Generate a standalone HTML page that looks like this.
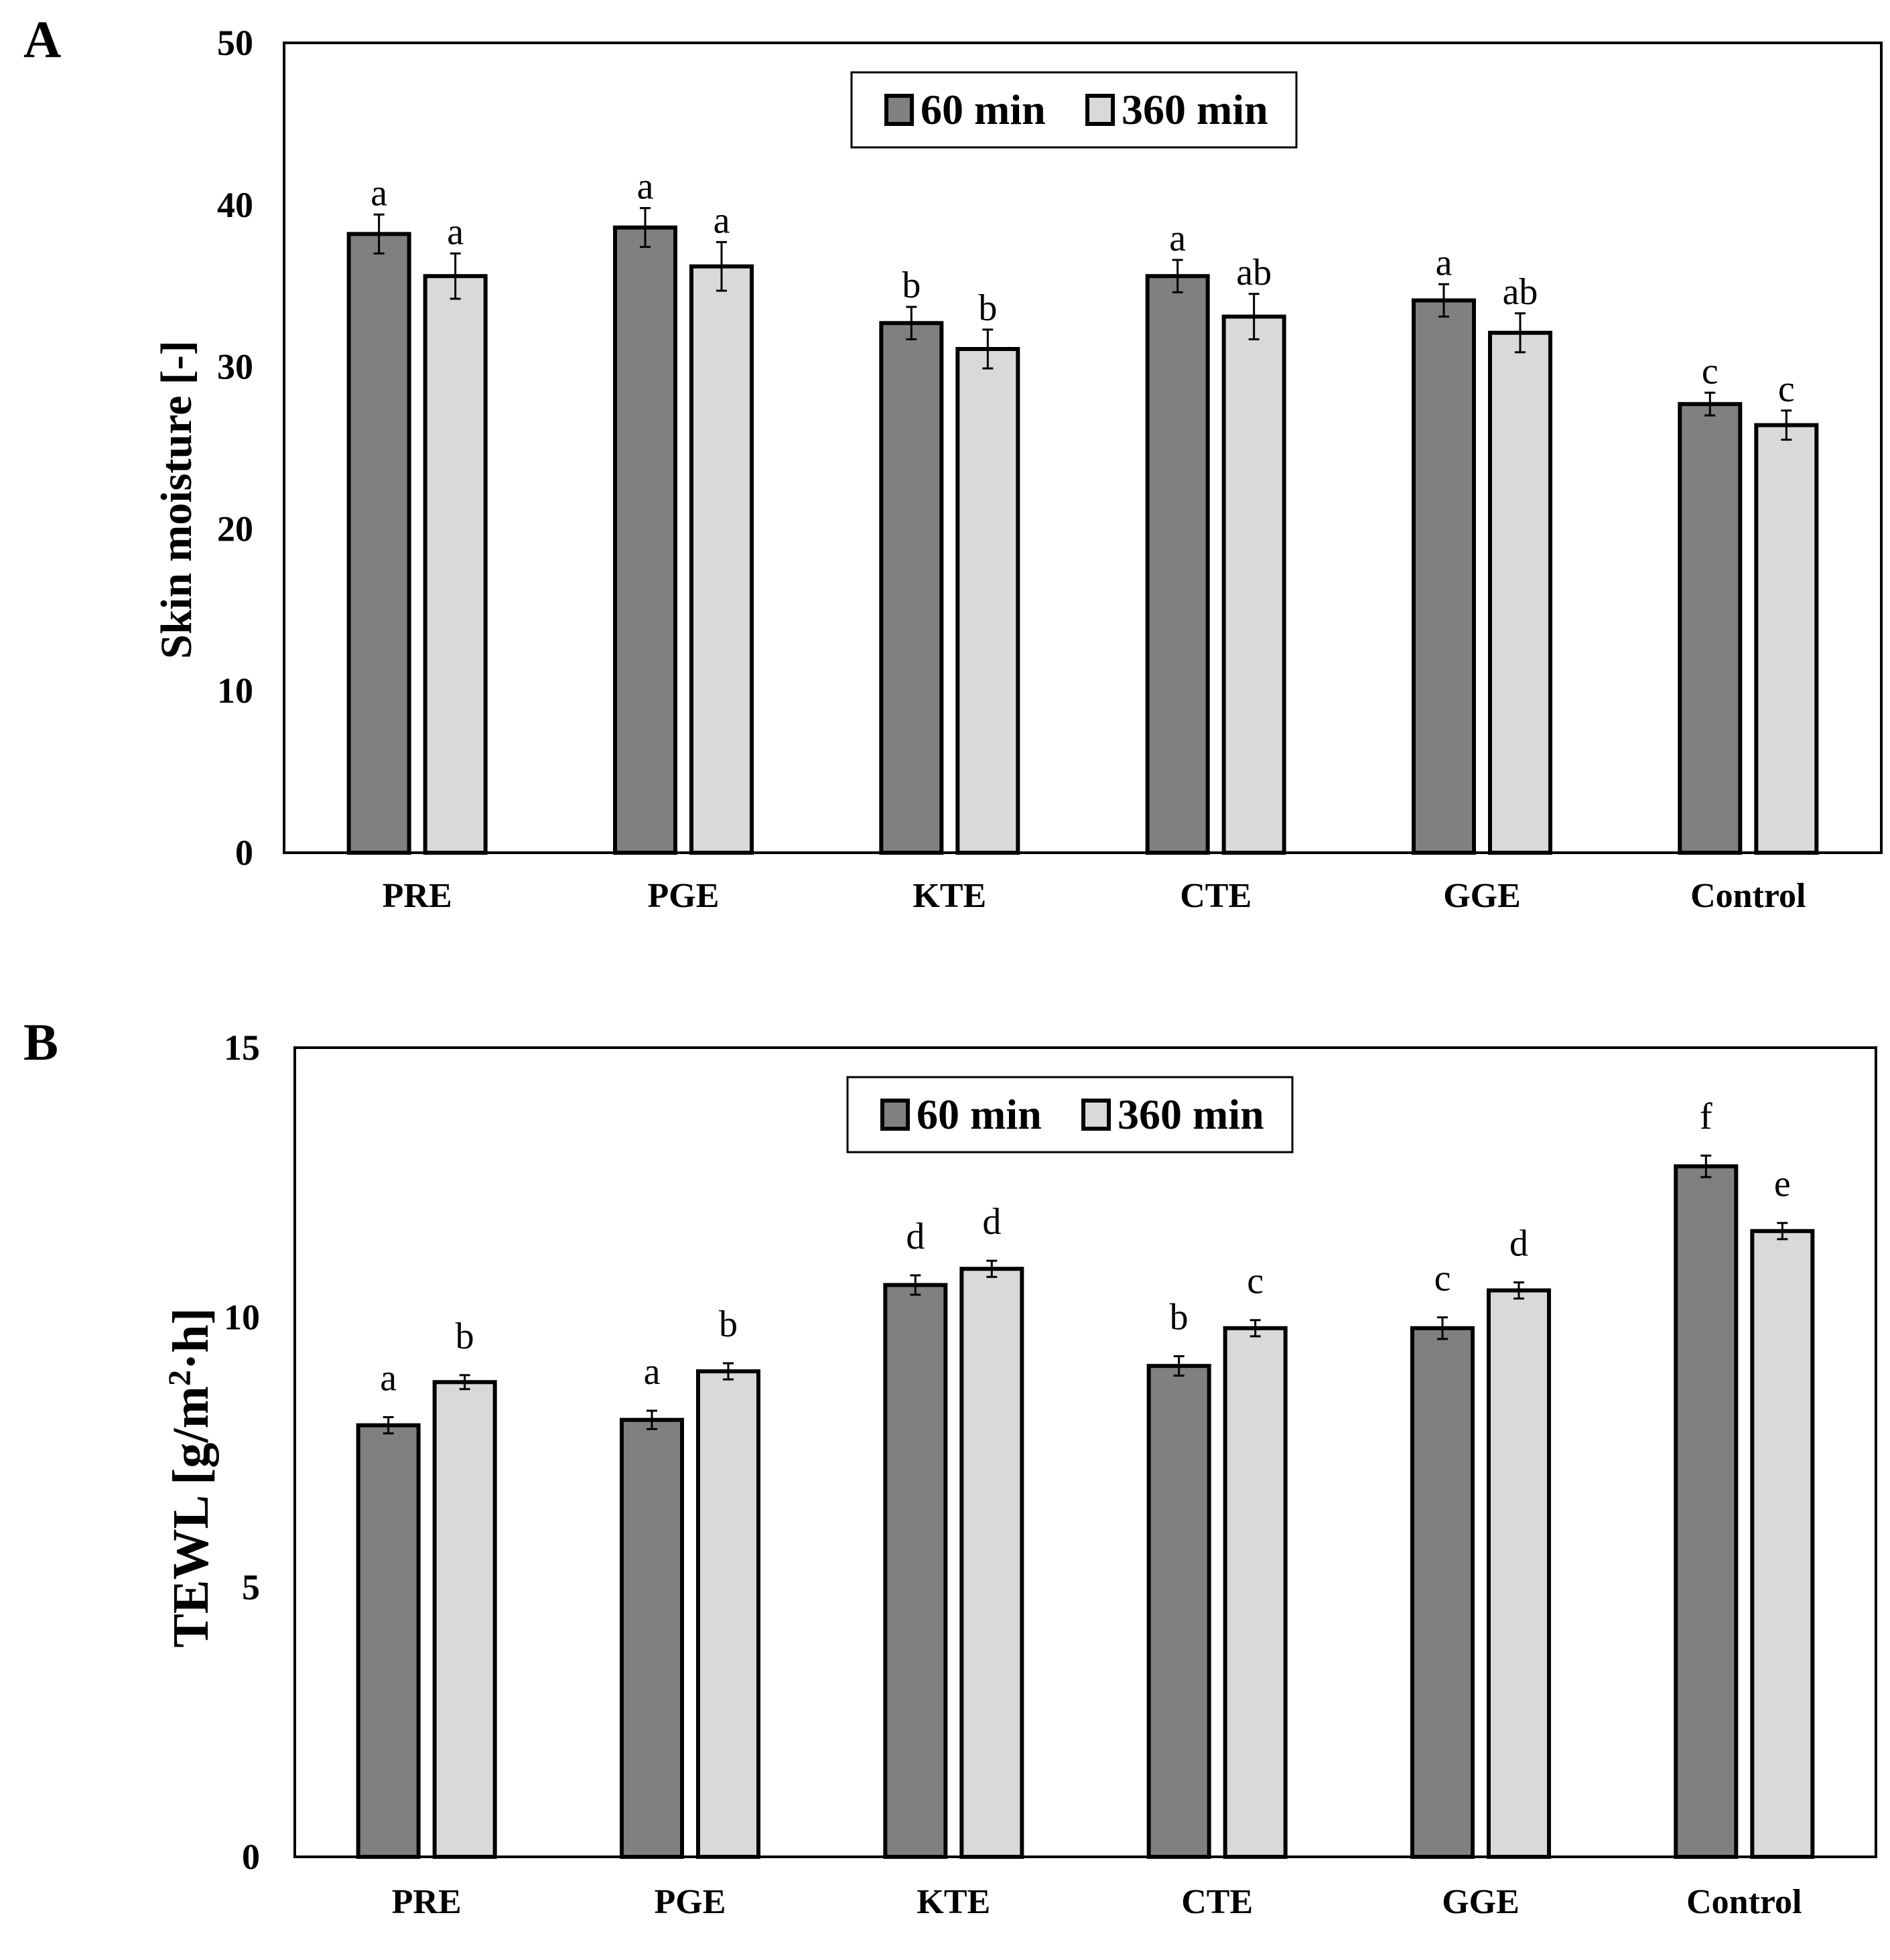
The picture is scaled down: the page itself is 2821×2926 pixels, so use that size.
<!DOCTYPE html>
<html><head><meta charset="utf-8"><style>
html,body{margin:0;padding:0;background:#fff}
svg{display:block}
text{font-family:"Liberation Serif",serif}
</style></head><body>
<svg id="fig" width="2821" height="2926" viewBox="0 0 2821 2926" xmlns="http://www.w3.org/2000/svg">
<text x="35" y="85" font-size="78" font-weight="bold">A</text>
<text x="35" y="1582" font-size="78" font-weight="bold">B</text>
<g id="chartA"></g>
<g id="chartB"></g>
</svg>
<script>
const categories = ["PRE","PGE","KTE","CTE","GGE","Control"];
const moist60 = [38.2,38.6,32.7,35.6,34.1,27.7];
const moist60Err = [1.2,1.2,1.0,1.0,1.0,0.7];
const moist60Lbl = ["a","a","b","a","a","c"];
const moist360 = [35.6,36.2,31.1,33.1,32.1,26.4];
const moist360Err = [1.4,1.5,1.2,1.4,1.2,0.9];
const moist360Lbl = ["a","a","b","ab","ab","c"];
const moistTicks = [0,10,20,30,40,50];
const tewl60 = [8.0,8.1,10.6,9.1,9.8,12.8];
const tewl60Err = [0.15,0.17,0.18,0.18,0.2,0.2];
const tewl60Lbl = ["a","a","d","b","c","f"];
const tewl360 = [8.8,9.0,10.9,9.8,10.5,11.6];
const tewl360Err = [0.13,0.15,0.15,0.15,0.15,0.15];
const tewl360Lbl = ["b","b","d","c","d","e"];
const tewlTicks = [0,5,10,15];

const NS="http://www.w3.org/2000/svg";
function mk(parent,tag,attrs,txt){const e=document.createElementNS(NS,tag);for(const k in attrs)e.setAttribute(k,attrs[k]);if(txt!==undefined)e.textContent=txt;parent.appendChild(e);return e;}

function draw(g,cfg){
  const {L,T,R,B,max,ticks,d1,e1,l1,d2,e2,l2,title,titleX,titleY,titleSize,legX,legY,tickX,catY,lblOff}=cfg;
  const y=v=>B-(v/max)*(B-T);
  const band=(R-L)/categories.length;
  const cx=i=>L+band*(i+0.5);
  const bw=90, gap=24;
  const frame=mk(g,'rect',{x:L,y:T,width:R-L,height:B-T,fill:'none',stroke:'#000','stroke-width':4});
  
  
  ticks.forEach(t=>{
    const tl=mk(g,'text',{x:tickX,y:y(t)+18,'font-size':54,'font-weight':'bold','text-anchor':'end'},String(t));
    
    
  });
  const yt=mk(g,'text',{x:0,y:0,'font-size':titleSize,'font-weight':'bold','text-anchor':'middle',transform:`translate(${titleX},${titleY}) rotate(-90)`});
  yt.innerHTML=title;
  
  
  const series=[[d1,e1,l1,'#808080',-1],[d2,e2,l2,'#d9d9d9',1]];
  categories.forEach((c,i)=>{
    series.forEach(([vals,errs,lbls,fill,side],s)=>{
      const x0 = side<0 ? cx(i)-gap/2-bw : cx(i)+gap/2;
      const r=mk(g,'rect',{x:x0,y:y(vals[i]),width:bw,height:B-y(vals[i]),fill:fill,stroke:'#000','stroke-width':6});
      
      
      const mx=x0+bw/2, top=y(vals[i]+errs[i]), bot=y(vals[i]-errs[i]);
      const eb=mk(g,'path',{d:`M${mx},${top}V${bot}M${mx-8},${top}H${mx+8}M${mx-8},${bot}H${mx+8}`,stroke:'#000','stroke-width':3,fill:'none'});
      
      
      const lt=mk(g,'text',{x:mx,y:top-lblOff,'font-size':56,'text-anchor':'middle'},lbls[i]);
      
      
    });
    const cl=mk(g,'text',{x:cx(i),y:catY,'font-size':52,'font-weight':'bold','text-anchor':'middle'},c);
    
    
  });
  const lg=mk(g,'g',{});
  
  
  mk(lg,'rect',{x:legX,y:legY,width:664,height:112,fill:'#fff',stroke:'#000','stroke-width':3});
  const e1g=mk(lg,'g',{});
  
  
  mk(e1g,'rect',{x:legX+52,y:legY+35,width:38,height:42,fill:'#808080',stroke:'#000','stroke-width':6});
  mk(e1g,'text',{x:legX+103,y:legY+77,'font-size':64,'font-weight':'bold'},'60 min');
  const e2g=mk(lg,'g',{});
  
  
  mk(e2g,'rect',{x:legX+352,y:legY+35,width:38,height:42,fill:'#d9d9d9',stroke:'#000','stroke-width':6});
  mk(e2g,'text',{x:legX+403,y:legY+77,'font-size':64,'font-weight':'bold'},'360 min');
}
draw(document.getElementById('chartA'),{L:424,T:64,R:2808,B:1273,max:50,ticks:moistTicks,d1:moist60,e1:moist60Err,l1:moist60Lbl,d2:moist360,e2:moist360Err,l2:moist360Lbl,title:'Skin moisture [-]',titleX:285,titleY:746,titleSize:66,legX:1271,legY:108,tickX:378,catY:1354,lblOff:14});
draw(document.getElementById('chartB'),{L:440,T:1564,R:2800,B:2772,max:15,ticks:tewlTicks,d1:tewl60,e1:tewl60Err,l1:tewl60Lbl,d2:tewl360,e2:tewl360Err,l2:tewl360Lbl,title:'TEWL [g/m<tspan baseline-shift="super" font-size="48">2</tspan>·h]',titleX:310,titleY:2206,titleSize:76,legX:1265,legY:1608,tickX:388,catY:2856,lblOff:40});
</script>
</body></html>
